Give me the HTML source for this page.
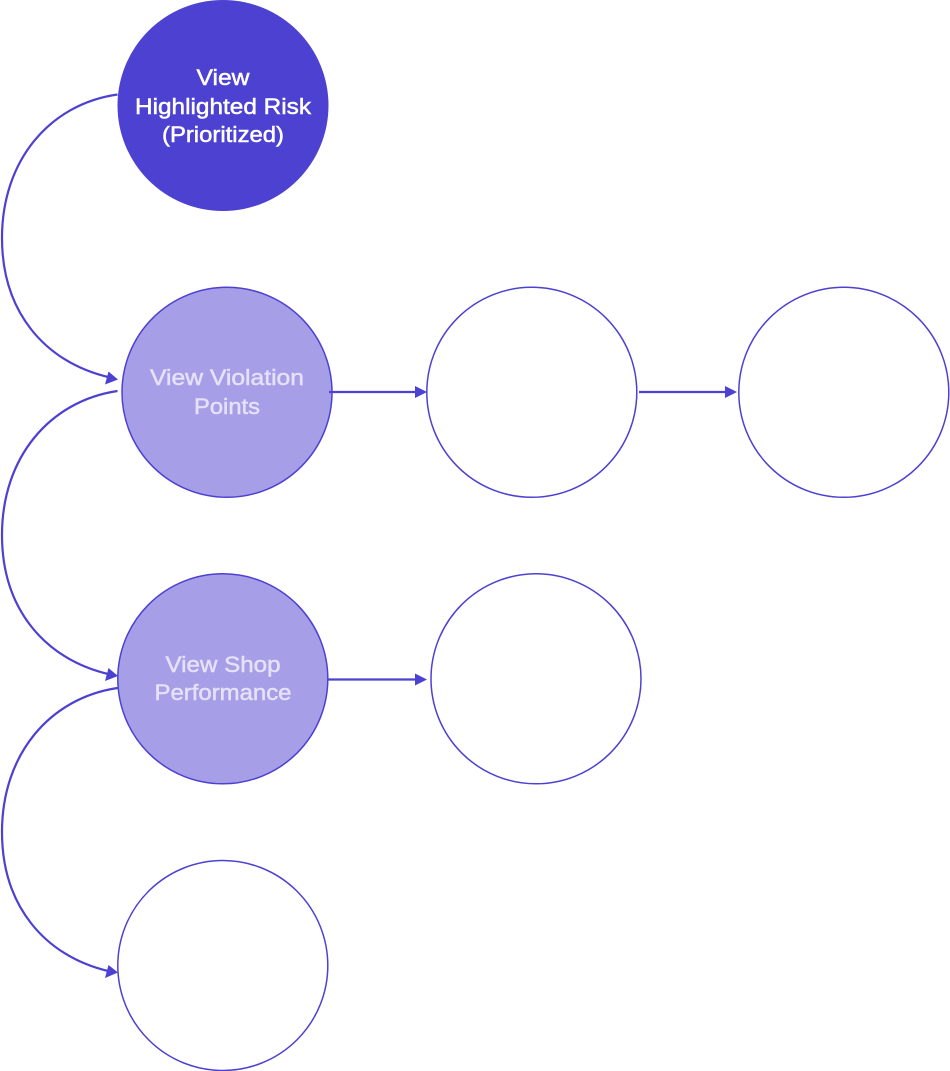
<!DOCTYPE html>
<html><head><meta charset="utf-8"><style>
html,body{margin:0;padding:0;background:#fff;width:950px;height:1071px;overflow:hidden}
svg{display:block}
text{font-family:"Liberation Sans",sans-serif;font-size:22px;text-anchor:middle;stroke-width:.5px}
.w{fill:#fff;stroke:#fff}
.l{fill:#e4e1f8;stroke:#e4e1f8}
</style></head><body>
<svg width="950" height="1071" viewBox="0 0 950 1071" xmlns="http://www.w3.org/2000/svg">
<circle cx="223" cy="105.500" r="105.500" fill="#4c41d1"/>
<g stroke="#4c41d1" stroke-width="1.5">
<circle cx="227" cy="392.300" r="105" fill="#a69ee7"/>
<circle cx="531.800" cy="392.300" r="105" fill="#fff"/>
<circle cx="843.800" cy="392.300" r="105" fill="#fff"/>
<circle cx="222.800" cy="678.800" r="105" fill="#a69ee7"/>
<circle cx="536" cy="678.800" r="105" fill="#fff"/>
<circle cx="222.800" cy="965.500" r="105" fill="#fff"/>
</g>
<g fill="none" stroke="#4c41d1" stroke-width="2.200">
<path d="M117.500 94.500C50 104 2 160 2 238C2 312 45 362 108 377"/>
<path d="M117.500 391C50 401 2 457 2 535C2 609 45 659 108 674"/>
<path d="M117.500 688C50 698 2 754 2 832C2 906 45 956 108 971"/>
<path d="M329 392H417"/>
<path d="M639 392H727"/>
<path d="M328 679.500H420"/>
</g>
<g fill="#4c41d1">
<path d="M118 379.500L105 384.500L108.500 371.500Z"/>
<path d="M118 676L105 681L108.500 668Z"/>
<path d="M118 972.500L105 978L108.500 965Z"/>
<path d="M427 392L415 386V398Z"/>
<path d="M737 392L725 386V398Z"/>
<path d="M427 679.500L415 673.500V685.500Z"/>
</g>
<text class="w" x="223" y="85" textLength="53" lengthAdjust="spacingAndGlyphs">View</text>
<text class="w" x="223" y="114" textLength="176" lengthAdjust="spacingAndGlyphs">Highlighted Risk</text>
<text class="w" x="223" y="142" textLength="122" lengthAdjust="spacingAndGlyphs">(Prioritized)</text>
<text class="l" x="227" y="385" textLength="154" lengthAdjust="spacingAndGlyphs">View Violation</text>
<text class="l" x="227" y="414" textLength="66" lengthAdjust="spacingAndGlyphs">Points</text>
<text class="l" x="223" y="672" textLength="115" lengthAdjust="spacingAndGlyphs">View Shop</text>
<text class="l" x="223" y="700" textLength="137" lengthAdjust="spacingAndGlyphs">Performance</text>
</svg>
</body></html>
